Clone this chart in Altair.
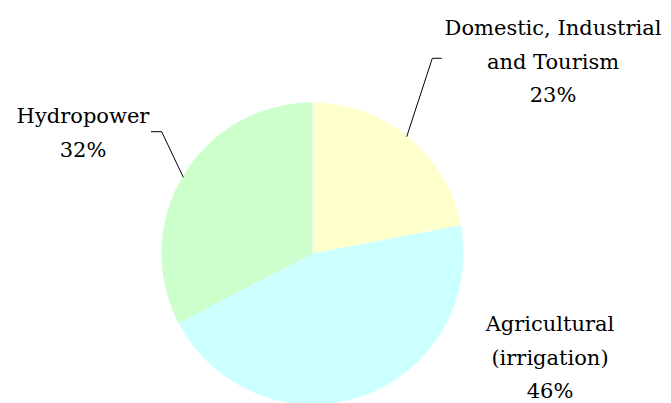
import altair as alt
import pandas as pd

# data
categories = ["Domestic, Industrial and Tourism", "Agricultural (irrigation)", "Hydropower"]
shares = [22.0, 45.4, 32.6]          # slice sizes measured from the pie geometry
pct_labels = ["23%", "46%", "32%"]   # printed labels
label_lines = [["Domestic, Industrial", "and Tourism"], ["Agricultural", "(irrigation)"], ["Hydropower"]]
colors = ["#FFFFCC", "#CCFFFF", "#CCFFCC"]

df = pd.DataFrame({
    "category": categories,
    "share": shares,
    "order": list(range(len(categories))),
    "label": [lines + [p] for lines, p in zip(label_lines, pct_labels)],
})

W, H = 655, 395
CX, CY, R = 304.5, 245.5, 151
FONT = "DejaVu Serif"
FS = 21
LH = 33.5

pie = alt.Chart(df).mark_arc(radius=R, stroke=None).encode(
    theta=alt.Theta("share:Q", stack=True),
    order=alt.Order("order:Q"),
    color=alt.Color("category:N", scale=alt.Scale(domain=categories, range=colors), legend=None),
    x=alt.value(CX),
    y=alt.value(CY),
)

label_pos = {
    categories[0]: (545, 27),
    categories[1]: (542, 323),
    categories[2]: (75, 115),
}

layers = [pie]
for cat, (lx, ly) in label_pos.items():
    layers.append(
        alt.Chart(df).transform_filter(alt.datum.category == cat).mark_text(
            font=FONT, fontSize=FS, color="black", align="center", baseline="alphabetic",
            lineHeight=LH,
        ).encode(text="label", x=alt.value(lx), y=alt.value(ly))
    )

leaders = [
    ((398.7, 128.7), (424.3, 50.3)),
    ((424.3, 50.3), (433.7, 50.3)),
    ((143.0, 123.7), (153.7, 123.7)),
    ((153.7, 123.7), (175.3, 169.3)),
]
for (x1, y1), (x2, y2) in leaders:
    layers.append(
        alt.Chart(df.head(1)).mark_rule(color="black", strokeWidth=1).encode(
            x=alt.value(x1), y=alt.value(y1), x2=alt.value(x2), y2=alt.value(y2)
        )
    )

chart = alt.layer(*layers).properties(
    width=W, height=H, autosize=alt.AutoSizeParams(type="none"), padding=0
).configure_view(stroke=None)

chart.save("out.html", embed_options={"renderer": "svg", "actions": False})
